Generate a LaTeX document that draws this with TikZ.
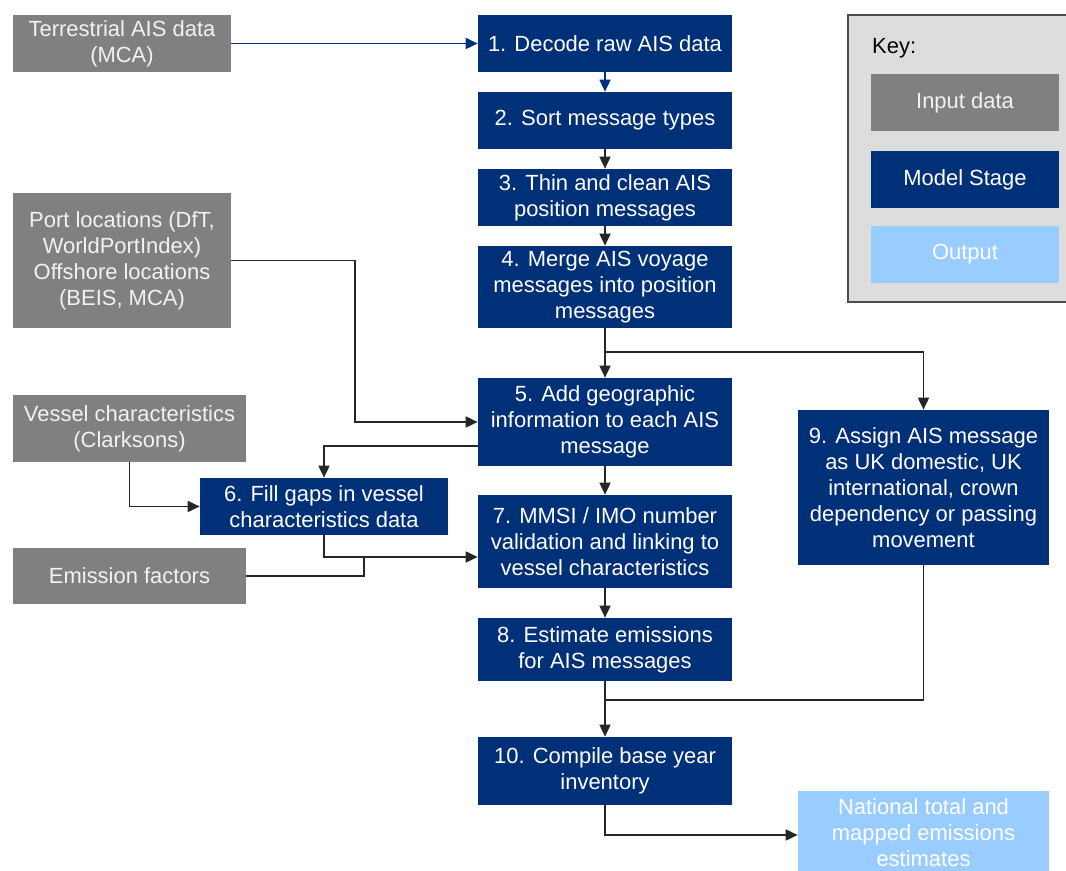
\documentclass[tikz,border=0pt]{standalone}
\usepackage{fontspec}
\setmainfont{Liberation Sans}
\usetikzlibrary{arrows.meta}
\definecolor{navy}{RGB}{0,48,120}
\definecolor{datagray}{RGB}{128,128,128}
\definecolor{outblue}{RGB}{153,204,255}
\definecolor{keygray}{RGB}{221,221,221}
\tikzset{
	box/.style={rectangle, inner sep=0pt, align=center, text=white, font=\fontsize{12.5}{14.8}\selectfont},
	input/.style={box, fill=datagray, text=white!95!black},
	stage/.style={box, fill=navy, minimum width=5.08cm},
	output/.style={box, fill=outblue},
	flow/.style={-{Triangle[length=2.4mm,width=2.2mm]}, line width=1pt, black!85},
	link/.style={line width=1pt, black!85},
}
\begin{document}
\begin{tikzpicture}[x=0.02cm,y=-0.02cm]
	\useasboundingbox (0,0) rectangle (1066,871);
	
	% key
	\draw[fill=keygray, draw=black!70, line width=1pt] (848,15) rectangle (1080,302);
	\node[anchor=west, font=\fontsize{12.5}{14.8}\selectfont] (keytitle) at (866,48) {Key:};
	\node[input, minimum width=3.76cm, minimum height=1.14cm] (keyin) at (965,102.5) {Input data};
	\node[stage, minimum width=3.76cm, minimum height=1.14cm] (keystage) at (965,179.5) {Model Stage};
	\node[output, minimum width=3.76cm, minimum height=1.14cm] (keyout) at (965,254.5) {Output};
	
	% inputs
	\node[input, minimum width=4.36cm, minimum height=1.14cm] (terr) at (122,43.5) {Terrestrial AIS data\\(MCA)};
	\node[input, minimum width=4.36cm, minimum height=2.7cm] (port) at (122,260.5) {Port locations (DfT,\\WorldPortIndex)\\Offshore locations\\(BEIS, MCA)};
	\node[input, minimum width=4.66cm, minimum height=1.34cm] (vessel) at (129.5,428.5) {Vessel characteristics\\(Clarksons)};
	\node[input, minimum width=4.66cm, minimum height=1.12cm] (emis) at (129.5,576) {Emission factors};
	
	% model stages
	\node[stage, minimum height=1.14cm] (s1) at (605,43.5) {1. Decode raw AIS data};
	\node[stage, minimum height=1.14cm] (s2) at (605,120.5) {2. Sort message types};
	\node[stage, minimum height=1.14cm] (s3) at (605,197.5) {3. Thin and clean AIS\\position messages};
	\node[stage, minimum height=1.64cm] (s4) at (605,287) {4. Merge AIS voyage\\messages into position\\messages};
	\node[stage, minimum height=1.76cm] (s5) at (605,422) {5. Add geographic\\information to each AIS\\message};
	\node[stage, minimum width=4.96cm, minimum height=1.14cm] (s6) at (324,506.5) {6. Fill gaps in vessel\\characteristics data};
	\node[stage, minimum height=1.86cm] (s7) at (605,541.5) {7. MMSI / IMO number\\validation and linking to\\vessel characteristics};
	\node[stage, minimum height=1.26cm] (s8) at (605,649.5) {8. Estimate emissions\\for AIS messages};
	\node[stage, minimum width=5.02cm, minimum height=3.1cm] (s9) at (923.5,487.5) {9. Assign AIS message\\as UK domestic, UK\\international, crown\\dependency or passing\\movement};
	\node[stage, minimum height=1.36cm] (s10) at (605,771) {10. Compile base year\\inventory};
	\node[output, minimum width=5.02cm, minimum height=1.66cm] (out) at (923.5,832.5) {National total and\\mapped emissions\\estimates};
	
	% junctions
	\coordinate (j4) at (605,352);
	\coordinate (jport) at (355,300);
	\coordinate (j7) at (364,557);
	\coordinate (j10) at (605,700);
	
	% connectors
	\draw[flow, navy] (terr.east) -- (s1.west);
	\draw[flow, navy] (s1.south) -- (s2.north);
	\draw[flow] (s2.south) -- (s3.north);
	\draw[flow] (s3.south) -- (s4.north);
	\draw[flow] (s4.south) -- (s5.north);
	\draw[flow] (j4) -| (s9.north);
	\draw[flow] (port.east) -| (jport) |- (s5.west);
	\draw[flow] ([yshift=-0.48cm]s5.west) -| (s6.north);
	\draw[flow] (vessel.south) |- (s6.west);
	\draw[flow] (s5.south) -- (s7.north);
	\draw[flow] (s6.south) |- ([yshift=-0.31cm]s7.west);
	\draw[link] (emis.east) -| (j7);
	\draw[flow] (s7.south) -- (s8.north);
	\draw[flow] (s8.south) -- (s10.north);
	\draw[link] (s9.south) |- (j10);
	\draw[flow] (s10.south) |- ([yshift=-0.05cm]out.west);
\end{tikzpicture}
\end{document}
